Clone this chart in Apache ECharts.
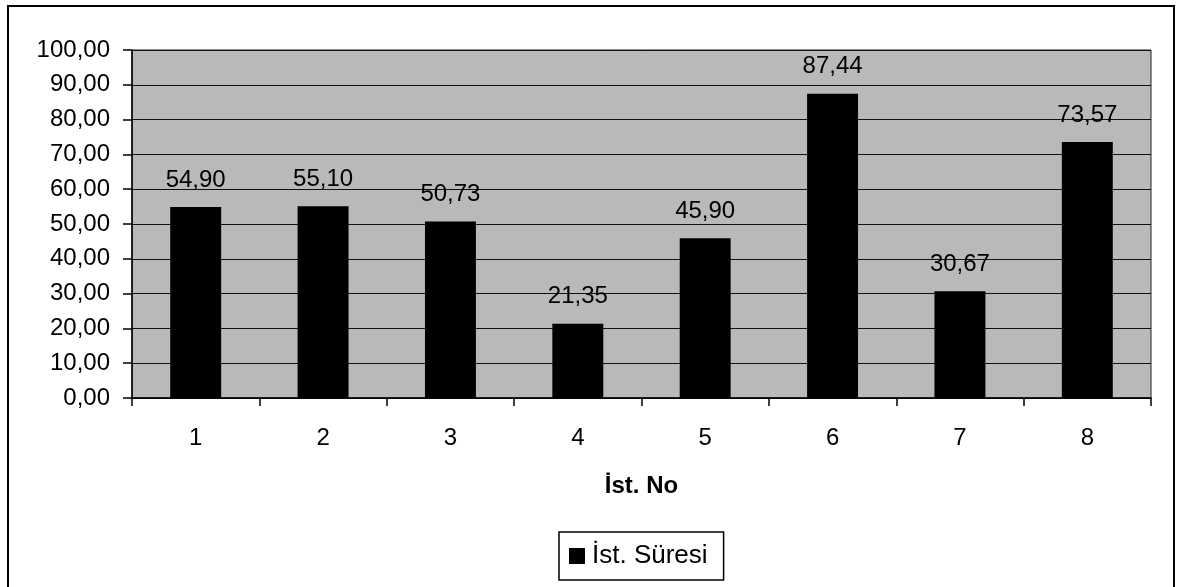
<!DOCTYPE html>
<html>
<head>
<meta charset="utf-8">
<script src="https://cdn.jsdelivr.net/npm/echarts@6/dist/echarts.min.js"></script>
<style>
html,body{margin:0;padding:0;background:#fff;}
#c{width:1188px;height:587px;}
</style>
</head>
<body>
<div id="c"></div>
<script>
const categories = ['1', '2', '3', '4', '5', '6', '7', '8'];
const sureValues = [54.90, 55.10, 50.73, 21.35, 45.90, 87.44, 30.67, 73.57];
const seriesName = 'İst. Süresi';
const xAxisTitle = 'İst. No';
const yTicks = { min: 0, max: 100, interval: 10 };

const FONT = 'Arial, "Liberation Sans", sans-serif';
const fmt = v => Number(v).toFixed(2).replace('.', ',');

const chart = echarts.init(document.getElementById('c'), null, { renderer: 'canvas' });
chart.setOption({
  animation: false,
  backgroundColor: '#fff',
  textStyle: { fontFamily: FONT, color: '#000' },
  graphic: [{
    type: 'rect',
    shape: { x: 8, y: 6, width: 1166, height: 620 },
    style: { fill: 'none', stroke: '#000', lineWidth: 2 },
    silent: true
  }],
  grid: {
    left: 132, right: 37, top: 50, bottom: 189,
    show: true,
    backgroundColor: '#b9b9b9',
    borderColor: '#222',
    borderWidth: 1
  },
  legend: {
    data: [seriesName],
    left: 559, top: 532,
    itemWidth: 16, itemHeight: 16,
    itemGap: 4,
    padding: [11, 16, 11, 10],
    borderColor: '#000', borderWidth: 1.5,
    icon: 'rect',
    textStyle: { fontFamily: FONT, fontSize: 26, color: '#000', padding: [0, 0, 0, 2] }
  },
  xAxis: {
    type: 'category',
    data: categories,
    name: xAxisTitle,
    nameLocation: 'middle',
    nameGap: 76,
    nameTextStyle: { fontFamily: FONT, fontSize: 24, fontWeight: 'bold', color: '#000' },
    axisLine: { show: true, lineStyle: { color: '#000', width: 1.5 } },
    axisTick: { show: true, alignWithLabel: false, length: 8, lineStyle: { color: '#000', width: 1.5 } },
    axisLabel: { fontFamily: FONT, fontSize: 24, color: '#000', margin: 28 },
    splitLine: { show: false }
  },
  yAxis: {
    type: 'value',
    min: yTicks.min, max: yTicks.max, interval: yTicks.interval,
    axisLine: { show: true, lineStyle: { color: '#000', width: 1.5 } },
    axisTick: { show: true, length: 9, lineStyle: { color: '#000', width: 1.5 } },
    axisLabel: { fontFamily: FONT, fontSize: 24, color: '#000', margin: 22, formatter: fmt },
    splitLine: { show: true, lineStyle: { color: '#111', width: 1.2 } }
  },
  series: [{
    name: seriesName,
    type: 'bar',
    data: sureValues,
    barWidth: '40%',
    itemStyle: { color: '#000' },
    label: {
      show: true,
      position: 'top',
      distance: 15,
      fontFamily: FONT,
      fontSize: 24,
      color: '#000',
      formatter: p => fmt(p.value)
    }
  }]
});
</script>
</body>
</html>
